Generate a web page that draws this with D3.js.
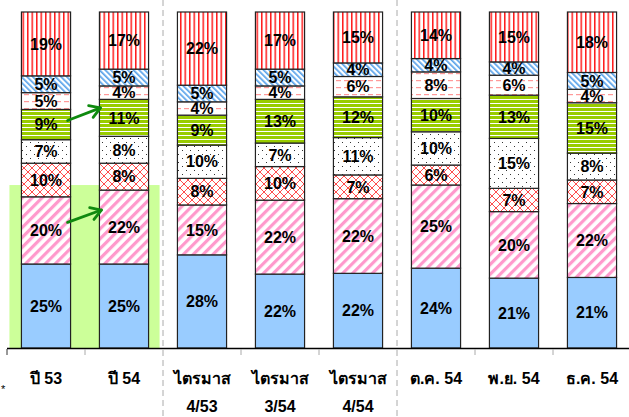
<!DOCTYPE html>
<html><head><meta charset="utf-8">
<script src="https://cdn.jsdelivr.net/npm/d3@7"></script>
<style>body{margin:0;background:#fff}svg{display:block}</style>
</head><body><svg id="c" width="629" height="417"></svg>
<script>
const categories = ["c1","c2","c3","c4","c5","c6","c7","c8"];
const labelLine1 = ["ปี 53","ปี 54","ไตรมาส","ไตรมาส","ไตรมาส","ต.ค. 54","พ.ย. 54","ธ.ค. 54"];
const labelLine2 = ["","","4/53","3/54","4/54","","",""];
// series, bottom to top (percent)
const sBlue      = [25,25,28,22,22,24,21,21];
const sPinkDiag  = [20,22,15,22,22,25,20,22];
const sRedCross  = [10,8,8,10,7,6,7,7];
const sDots      = [7,8,10,7,11,10,15,8];
const sGreen     = [9,11,9,13,12,10,13,15];
const sPinkDash  = [5,4,4,4,6,8,6,4];
const sBlueDiag  = [5,5,5,5,4,4,4,5];
const sRedVert   = [19,17,22,17,15,14,15,18];
const seriesList = [sBlue,sPinkDiag,sRedCross,sDots,sGreen,sPinkDash,sBlueDiag,sRedVert];
const fills = ["#99ccff","url(#pPinkDiag)","url(#pRedCross)","url(#pDots)","url(#pGreen)","url(#pPinkDash)","url(#pBlueDiag)","url(#pRedVert)"];
const dividersAfter = [1,4];
const highlightTop = 48.5;

const svg = d3.select("#c");
const defs = svg.append("defs");
function pat(id,w,h,transform){
  const p = defs.append("pattern").attr("id",id).attr("patternUnits","userSpaceOnUse").attr("width",w).attr("height",h);
  if(transform) p.attr("patternTransform",transform);
  p.append("rect").attr("width",w).attr("height",h).attr("fill","#fff");
  return p;
}
let p;
p = pat("pPinkDiag",7,7,"rotate(45)");
p.append("rect").attr("x",0).attr("width",3.2).attr("height",7).attr("fill","#ff99cc");
p = pat("pBlueDiag",4,4,"rotate(-45)");
p.append("rect").attr("x",0).attr("width",1.7).attr("height",4).attr("fill","#5aa3ea");
p = pat("pRedCross",8,8);
p.append("path").attr("d","M0,0L8,8M8,0L0,8").attr("stroke","#ff4d4d").attr("stroke-width",1).attr("fill","none");
p = pat("pDots",8,8);
p.append("rect").attr("x",2).attr("y",2).attr("width",1).attr("height",1).attr("fill","#333");
p.append("rect").attr("x",6).attr("y",6).attr("width",1).attr("height",1).attr("fill","#333");
p = pat("pGreen",4,4);
p.append("rect").attr("y",0).attr("width",4).attr("height",3).attr("fill","#99cc00");
p = pat("pPinkDash",8,7);
p.append("rect").attr("x",0).attr("y",3).attr("width",5).attr("height",1.2).attr("fill","#ff9999");
p = pat("pRedVert",4.5,4);
p.append("rect").attr("x",0).attr("width",1.5).attr("height",4).attr("fill","#ff1a1a");

const x = d3.scaleBand().domain(categories).range([7,631]).paddingInner(0.37).paddingOuter(0.185);
const y = d3.scaleLinear().domain([0,100]).range([348,12]);
const bw = x.bandwidth();

// highlight
svg.append("rect").attr("x",x(categories[0])-12).attr("y",y(highlightTop))
  .attr("width",x(categories[1])+bw+11-(x(categories[0])-12)).attr("height",y(0)-y(highlightTop)).attr("fill","#ccff99");

// dividers
dividersAfter.forEach(i=>{
  const xx = x(categories[i])+bw+(x.step()-bw)/2;
  svg.append("line").attr("x1",xx).attr("x2",xx).attr("y1",0).attr("y2",417)
    .attr("stroke","#aaaaaa").attr("stroke-width",1).attr("stroke-dasharray","6,4");
});

// bars
categories.forEach((c,ci)=>{
  const vals = seriesList.map(s=>s[ci]);
  const total = d3.sum(vals);
  let acc = 0;
  vals.forEach((v,si)=>{
    const v0 = acc/total*100, v1 = (acc+v)/total*100;
    acc += v;
    const g = svg.append("g");
    g.append("rect").attr("x",x(c)).attr("y",y(v1)).attr("width",bw).attr("height",y(v0)-y(v1))
      .attr("fill",fills[si]).attr("stroke","#222").attr("stroke-width",1.2);
    g.append("text").attr("x",x(c)+bw/2).attr("y",(y(v0)+y(v1))/2).attr("dy","0.36em")
      .attr("text-anchor","middle").attr("font-family","Liberation Sans, Arial, sans-serif")
      .attr("font-weight","bold").attr("font-size",16).attr("fill","#000").text(v+"%");
  });
});

// axis
svg.append("line").attr("x1",7).attr("x2",629).attr("y1",348.5).attr("y2",348.5).attr("stroke","#000").attr("stroke-width",1.5);
d3.range(categories.length+1).forEach(k=>{
  const xx = 7 + k*x.step();
  if(dividersAfter.includes(k-1)) return;
  svg.append("line").attr("x1",xx).attr("x2",xx).attr("y1",349).attr("y2",355).attr("stroke",k===0?"#333":"#aaa").attr("stroke-width",1);
});
categories.forEach((c,i)=>{
  svg.append("text").attr("x",x(c)+bw/2).attr("y",384).attr("text-anchor","middle")
    .attr("font-family","Liberation Sans, Arial, sans-serif").attr("font-weight","bold").attr("font-size",16).text(labelLine1[i]);
  if(labelLine2[i]) svg.append("text").attr("x",x(c)+bw/2).attr("y",412).attr("text-anchor","middle")
    .attr("font-family","Liberation Sans, Arial, sans-serif").attr("font-weight","bold").attr("font-size",16).text(labelLine2[i]);
});
svg.append("text").attr("x",1).attr("y",393).attr("font-family","Liberation Sans, Arial, sans-serif").attr("font-size",11).text("*");

// arrows
function midY(ci,si){
  const vals = seriesList.map(s=>s[ci]); const total=d3.sum(vals);
  const a = d3.sum(vals.slice(0,si)), b = a+vals[si];
  return (y(a/total*100)+y(b/total*100))/2;
}
function arrow(x1,y1,x2,y2){
  const col="#0f8a0f";
  svg.append("line").attr("x1",x1).attr("y1",y1).attr("x2",x2).attr("y2",y2).attr("stroke",col).attr("stroke-width",2.8).attr("stroke-linecap","round");
  const ang=Math.atan2(y2-y1,x2-x1), L=12, spread=0.55;
  const pts=[[x2-L*Math.cos(ang-spread),y2-L*Math.sin(ang-spread)],[x2,y2],[x2-L*Math.cos(ang+spread),y2-L*Math.sin(ang+spread)]];
  svg.append("path").attr("d",d3.line()(pts)).attr("fill","none").attr("stroke",col).attr("stroke-width",2.8).attr("stroke-linecap","round").attr("stroke-linejoin","round");
}
arrow(x(categories[0])+bw-3, midY(0,4)-4, x(categories[1])+1, midY(1,4)-10);
arrow(x(categories[0])+bw-3, midY(0,1)-8, x(categories[1])+2, midY(1,1)-17);
</script></body></html>
